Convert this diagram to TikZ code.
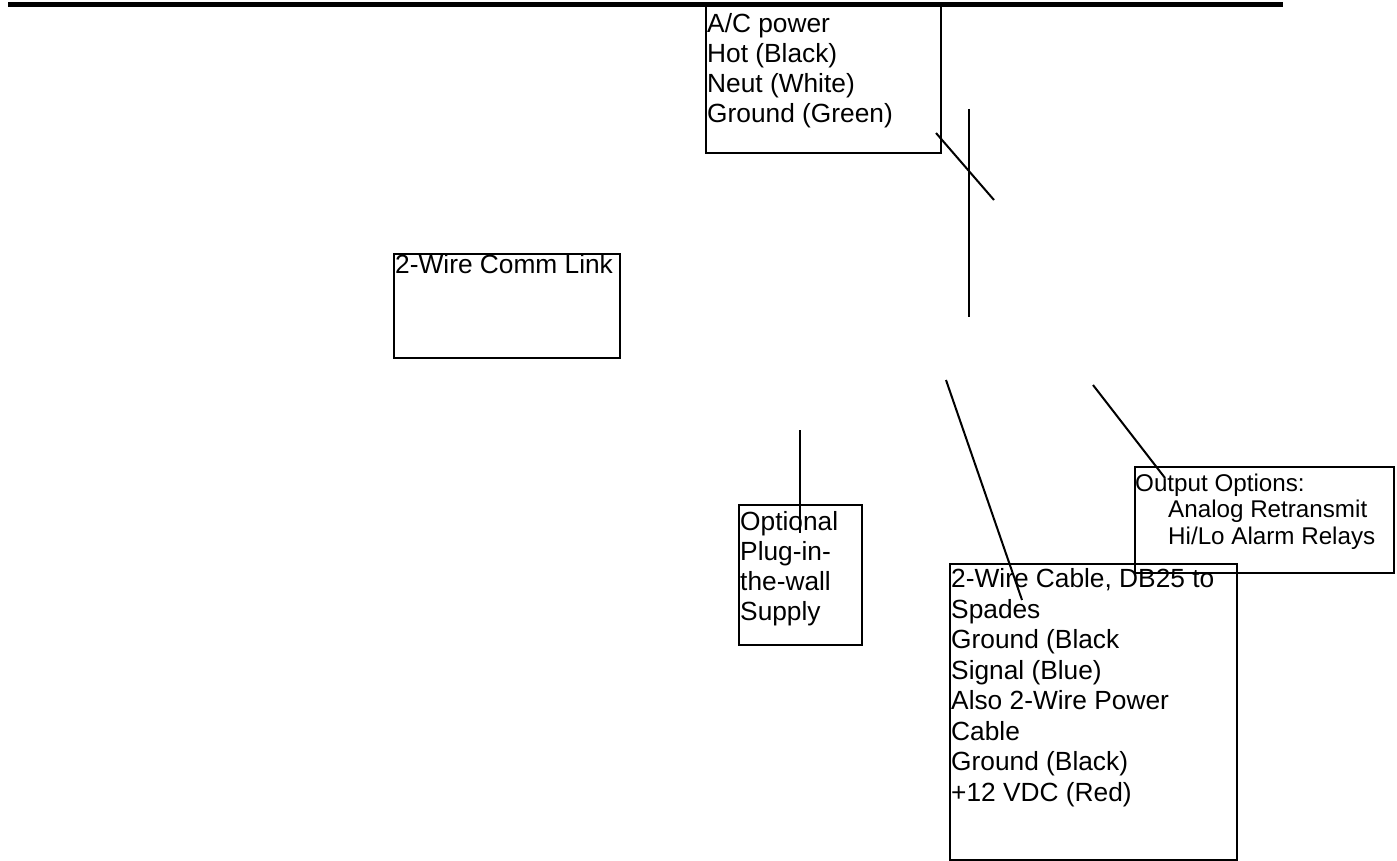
\documentclass[tikz,border=0pt]{standalone}
\usepackage{fontspec}
\setmainfont{Liberation Sans}
\begin{document}
\begin{tikzpicture}[x=1pt,y=-1pt,
  boxstyle/.style={draw,line width=2.3pt,inner sep=0pt,anchor=north west,fill=none},
  txt/.style={inner sep=0pt,anchor=base west,align=left,font=\fontsize{26.3}{30}\selectfont},
  smalltxt/.style={inner sep=0pt,anchor=base west,align=left,font=\fontsize{24.2}{26.5}\selectfont},
  wire/.style={line width=2pt},
  thinwire/.style={line width=1.2pt},
  bar/.style={line width=5pt}]
\path[use as bounding box] (0,0) rectangle (1397,861);
% top bar
\coordinate (barL) at (8,5);
\coordinate (barR) at (1283,5);
\draw[bar] (barL) -- (barR);
% boxes
\node[boxstyle,minimum width=235pt,minimum height=147pt] (acbox) at (705,5) {};
\node[boxstyle,minimum width=226pt,minimum height=104pt] (commbox) at (393,253) {};
\node[boxstyle,minimum width=123pt,minimum height=140pt] (optbox) at (738,504) {};
\node[boxstyle,minimum width=259pt,minimum height=106pt] (outbox) at (1134,466) {};
\node[boxstyle,minimum width=287pt,minimum height=296pt] (cablebox) at (949,563) {};
% texts (anchored at the baseline of the last line)
\node[txt] (actext) at (707,123) {A/C power\\Hot (Black)\\Neut (White)\\Ground (Green)};
\node[txt] (commtext) at (395,273) {2-Wire Comm Link};
\node[txt] (opttext) at (740,620) {Optional\\Plug-in-\\the-wall\\Supply};
\node[smalltxt] (outtext) at (1135,544) {Output Options:\\\hspace*{33pt}Analog Retransmit\\\hspace*{33pt}Hi/Lo Alarm Relays};
\node[txt,font=\fontsize{26.3}{30.5}\selectfont] (cabletext) at (951,801) {2-Wire Cable, DB25 to\\Spades\\Ground (Black\\Signal (Blue)\\Also 2-Wire Power\\Cable\\Ground (Black)\\+12 VDC (Red)};
% wires
\coordinate (d1a) at (936,133);
\coordinate (d1b) at (994,200);
\draw[wire] (d1a) -- (d1b);
\coordinate (v1a) at (969,109);
\coordinate (v1b) at (969,317);
\draw[wire] (v1a) -- (v1b);
\coordinate (d2a) at (946,380);
\coordinate (d2b) at (1022,600);
\draw[wire] (d2a) -- (d2b);
\coordinate (d3a) at (1093,385);
\coordinate (d3b) at (1165,478);
\draw[wire] (d3a) -- (d3b);
\coordinate (v2a) at (800,430);
\coordinate (v2b) at (800,533);
\draw[thinwire] (v2a) -- (v2b);
\end{tikzpicture}
\end{document}
